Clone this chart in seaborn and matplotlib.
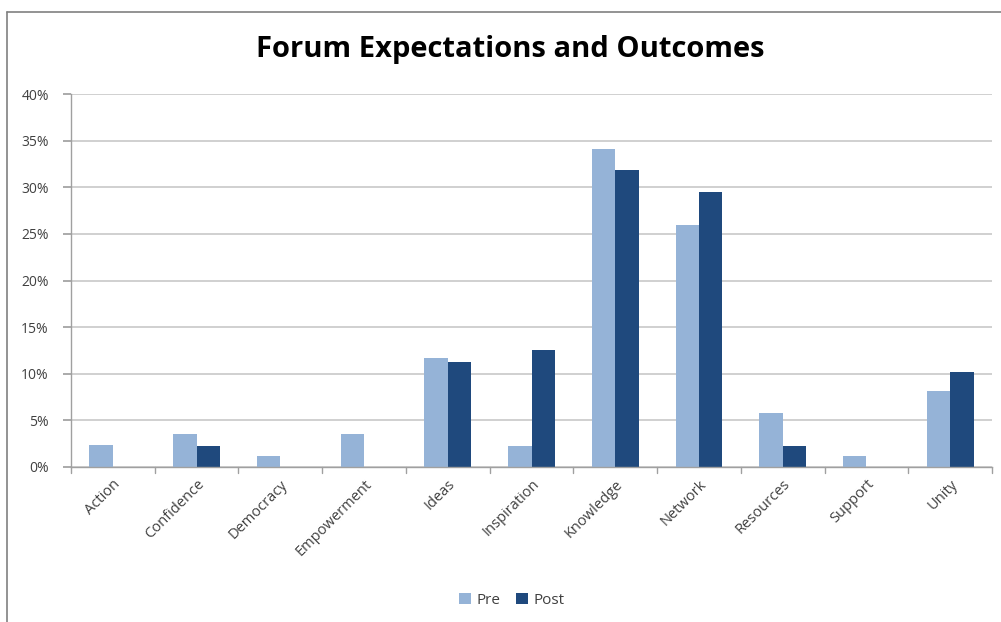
import matplotlib
matplotlib.use("Agg")
import matplotlib.pyplot as plt
import seaborn as sns
import pandas as pd
from matplotlib.lines import Line2D
from matplotlib.ticker import PercentFormatter

categories = ["Action", "Confidence", "Democracy", "Empowerment", "Ideas", "Inspiration",
              "Knowledge", "Network", "Resources", "Support", "Unity"]
pre = [2.33, 3.5, 1.16, 3.5, 11.7, 2.3, 34.1, 25.9, 5.8, 1.16, 8.15]
post = [0, 2.2, 0, 0, 11.3, 12.5, 31.8, 29.5, 2.2, 0, 10.2]
series = ["Pre", "Post"]
colors = ["#95B3D7", "#1F497D"]
yticks = [0, 5, 10, 15, 20, 25, 30, 35, 40]

df = pd.DataFrame({
    "Category": categories * 2,
    "Value": pre + post,
    "Series": ["Pre"] * len(categories) + ["Post"] * len(categories),
})

sns.set_theme(style="white")
plt.rcParams["font.family"] = ["Open Sans", "DejaVu Sans"]

fig = plt.figure(figsize=(10.01, 6.22), dpi=100)
ax = fig.add_axes([71 / 1001, 1 - 467 / 622, (992 - 71) / 1001, (467 - 94) / 622])

sns.barplot(data=df, x="Category", y="Value", hue="Series", hue_order=series,
            palette=colors, width=0.56, gap=0, ax=ax, legend=True, saturation=1,
            order=categories, edgecolor="none", linewidth=0)

ax.set_ylim(0, 40)
ax.set_xlim(-0.5, len(categories) - 0.5)
ax.set_yticks(yticks)
ax.yaxis.set_major_formatter(PercentFormatter(decimals=0))
ax.yaxis.grid(True, color="#D0D0D0", linewidth=1.4)
ax.set_axisbelow(True)
ax.set_xlabel("")
ax.set_ylabel("")

for side in ["top", "right"]:
    ax.spines[side].set_visible(False)
for side in ["left", "bottom"]:
    ax.spines[side].set_color("#A0A0A0")
    ax.spines[side].set_linewidth(1.0)

ax.set_xticks([i for i in range(len(categories))])
ax.set_xticklabels(categories, rotation=45, ha="right", rotation_mode="anchor",
                   fontsize=10.5, color="#404040")
ax.tick_params(axis="x", length=0, pad=7)
for b in [i - 0.5 for i in range(len(categories) + 1)]:
    ax.plot([b, b], [0, -0.6], color="#A0A0A0", lw=1.0, clip_on=False)
ax.tick_params(axis="y", left=True, length=6, color="#A0A0A0", labelsize=10,
               labelcolor="#404040", pad=10)

fig.text(510 / 1001, 1 - 50 / 622, "Forum Expectations and Outcomes", ha="center",
         va="center", fontsize=21, fontweight="bold", color="#000000")

leg = ax.legend(loc="center", bbox_to_anchor=(512 / 1001, 1 - 600 / 622),
                bbox_transform=fig.transFigure, ncol=2, frameon=False,
                fontsize=11, handlelength=0.75, handleheight=0.75,
                handletextpad=0.4, columnspacing=1.0)
for t in leg.get_texts():
    t.set_color("#404040")

fig.add_artist(Line2D([7 / 1001, 7 / 1001], [0, 1 - 12 / 622], transform=fig.transFigure,
                      color="#808080", lw=1.2))
fig.add_artist(Line2D([7 / 1001, 1], [1 - 12 / 622, 1 - 12 / 622], transform=fig.transFigure,
                      color="#808080", lw=1.2))

fig.savefig("out.png", dpi=100)
